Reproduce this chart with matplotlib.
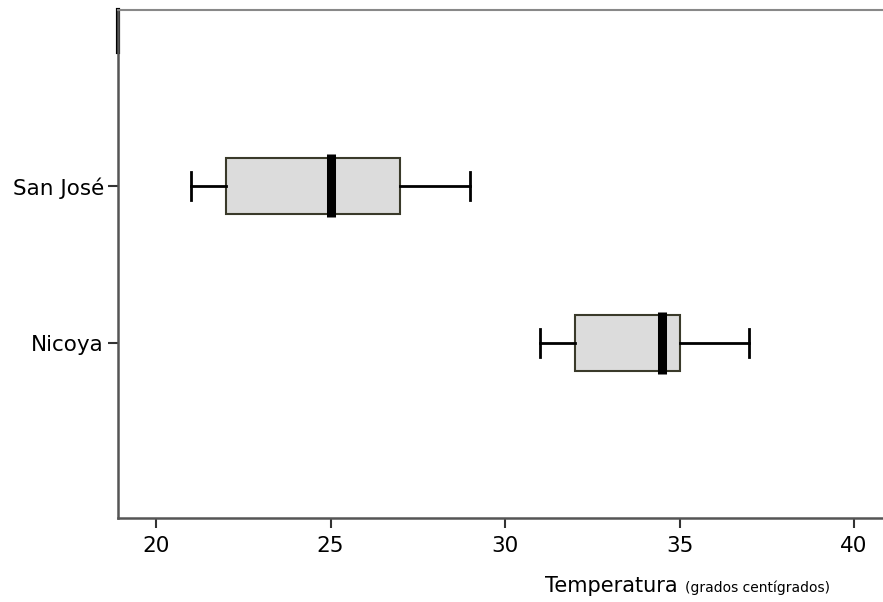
import matplotlib
matplotlib.use("Agg")
import matplotlib.pyplot as plt
import numpy as np

# datos (grados centígrados)
ciudades = ["Nicoya", "San José"]
minimos = [31, 21]
q1 = [32, 22]
medianas = [34.5, 25]
q3 = [35, 27]
maximos = [37, 29]

stats = []
for i, c in enumerate(ciudades):
    stats.append({"label": c, "whislo": minimos[i], "q1": q1[i], "med": medianas[i],
                  "q3": q3[i], "whishi": maximos[i], "fliers": []})

fig = plt.figure(figsize=(8.83, 6.02), dpi=100)
ax = fig.add_axes([118/883, 84/602, 1 - 118/883, 508/602])

bp = ax.bxp(stats, positions=[1, 2], vert=False, widths=0.36, patch_artist=True,
            showfliers=False,
            boxprops=dict(facecolor="#dcdcdc", edgecolor="#3a3a2a", linewidth=1.5),
            medianprops=dict(color="black", linewidth=6.5, solid_capstyle="butt"),
            whiskerprops=dict(color="black", linewidth=2),
            capprops=dict(color="black", linewidth=2),
            capwidths=0.18)

# la mediana sobresale un poco de la caja
for m in bp["medians"]:
    y = m.get_ydata()
    m.set_ydata([min(y) - 0.02, max(y) + 0.02])

ax.set_xlim(18.91, 40.83)
ax.set_ylim(-0.115, 3.12)
ax.set_xticks([20, 25, 30, 35, 40])
ax.set_yticks([1, 2])
ax.set_yticklabels(ciudades)

ax.spines["right"].set_visible(False)
ax.spines["top"].set_color("#888888")
ax.spines["top"].set_linewidth(1.5)
ax.spines["left"].set_color("#555555")
ax.spines["left"].set_linewidth(1.8)
ax.spines["bottom"].set_color("#555555")
ax.spines["bottom"].set_linewidth(1.8)
ax.tick_params(axis="both", labelsize=15.5, color="#333333", width=1.5, length=7)
ax.tick_params(axis="x", pad=6)
ax.tick_params(axis="y", pad=3)

# marca gruesa en la esquina superior izquierda
ax.plot([0, 0], [0.918, 1.0], transform=ax.transAxes, color="black", lw=3, clip_on=False)

fig.text(545/883, 10/602, "Temperatura", fontsize=15, ha="left", va="baseline")
fig.text(685/883, 10/602, "(grados centígrados)", fontsize=10, ha="left", va="baseline")

fig.savefig("out.png", dpi=100)
